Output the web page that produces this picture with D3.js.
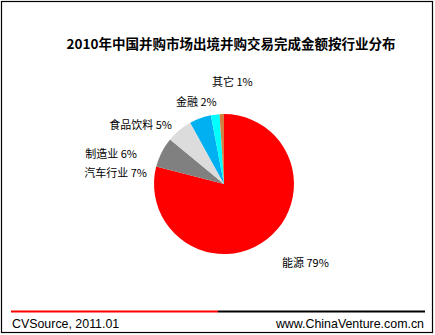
<html><head>
<script src="https://d3js.org/d3.v7.min.js"></script>
<style>
  body { margin: 0; background: #fff; }
  text { font-family: "Noto Sans CJK SC", "DejaVu Sans", sans-serif; }
  .lbl { font-size: 11px; fill: #000; }
</style>
</head>
<body>
<svg id="chart" width="435" height="335"></svg>
<script>
// data, clockwise from 12 o'clock
const categories = ["能源", "汽车行业", "制造业", "食品饮料", "金融", "其它"];
const shares = [79, 7, 6, 5, 2, 1];
const colors = ["#FF0000", "#808080", "#DCDCDC", "#00B0F0", "#00FFFF", "#D08040"];
// label anchor points (x, y, anchor)
const labelPos = [[282, 267, "start"], [147, 177, "end"], [137, 158, "end"], [172, 129, "end"], [176, 106, "start"], [212, 86, "start"]];

let svg = d3.select("#chart");

svg.append("rect")
  .attr("x", 1.5).attr("y", 1.5)
  .attr("width", 431).attr("height", 331)
  .style("fill", "#fff").style("stroke", "#000").style("stroke-width", 1.2);

svg.append("text")
  .attr("x", 231).attr("y", 49)
  .attr("text-anchor", "middle")
  .style("font-size", "13.5px").style("font-weight", "bold")
  .text("2010年中国并购市场出境并购交易完成金额按行业分布");

let pie = d3.pie().sort(null).value(d => d)(shares);
let arc = d3.arc().innerRadius(0).outerRadius(70);

let g = svg.append("g").attr("transform", "translate(224,184)");
g.selectAll("path")
  .data(pie)
  .enter().append("path")
  .attr("d", arc)
  .style("fill", (d, i) => colors[i]);

categories.forEach((c, i) => {
  svg.append("text")
    .attr("class", "lbl")
    .attr("x", labelPos[i][0]).attr("y", labelPos[i][1])
    .attr("text-anchor", labelPos[i][2])
    .text(c + " " + shares[i] + "%");
});

// footer
svg.append("line").attr("x1", 11).attr("x2", 218).attr("y1", 311.5).attr("y2", 311.5)
  .style("stroke", "#FF0000").style("stroke-width", 2);
svg.append("line").attr("x1", 218).attr("x2", 425).attr("y1", 311.5).attr("y2", 311.5)
  .style("stroke", "#000").style("stroke-width", 2);

svg.append("text").attr("class", "lbl")
  .attr("x", 12).attr("y", 328)
  .style("font-family", "'Liberation Sans', Arial, sans-serif").style("font-size", "12.4px")
  .text("CVSource, 2011.01");
svg.append("text").attr("class", "lbl")
  .attr("x", 424).attr("y", 328).attr("text-anchor", "end")
  .style("font-family", "'Liberation Sans', Arial, sans-serif").style("font-size", "12.4px")
  .text("www.ChinaVenture.com.cn");
</script>
</body>
</html>
